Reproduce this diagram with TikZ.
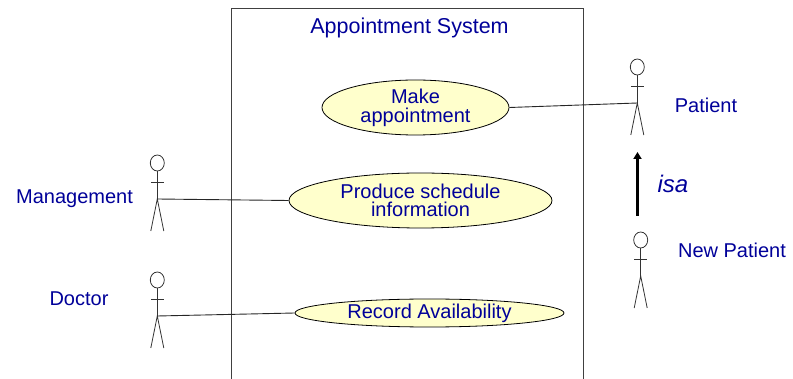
\documentclass[tikz,border=0pt]{standalone}
\usepackage{fontspec}
\setmainfont{Liberation Sans}
\usetikzlibrary{shapes.geometric,arrows.meta}
\definecolor{txt}{HTML}{000099}
\definecolor{usefill}{HTML}{FFFFCC}
\tikzset{
  usecase/.style={ellipse,draw=black,line width=0.8pt,fill=usefill,inner sep=0pt,text=txt,align=center},
  lab/.style={text=txt,inner sep=0pt,font=\fontsize{20}{20}\selectfont},
  conn/.style={draw=black!85,line width=0.9pt},
  stick/.style={draw=black!80,line width=0.8pt},
  pics/actor/.style={code={
    \coordinate (-hip) at (0,0);
    \draw[stick] (0,-36) ellipse [x radius=7,y radius=8];
    \draw[stick] (0,-28) -- (0,0);
    \draw[stick] (-6.5,-17) -- (6.5,-17);
    \draw[stick] (-6.5,32) -- (0,0) -- (6.5,32);
  }}
}
\begin{document}
\begin{tikzpicture}[x=1pt,y=-1pt]
\useasboundingbox (0,0) rectangle (793,379);
\draw[draw=black!75,line width=0.9pt] (231.5,379) -- (231.5,8.5) -- (583,8.5) -- (583,379);
\node[lab,font=\fontsize{21.5}{22}\selectfont] (title) at (409.5,28) {Appointment System};
\node[usecase,minimum width=187pt,minimum height=55pt,font=\fontsize{20}{19}\selectfont] (make) at (415.5,107.5) {Make\\appointment};
\node[usecase,minimum width=263pt,minimum height=55pt,font=\fontsize{20}{18}\selectfont] (produce) at (420.5,200.5) {Produce schedule\\information};
\node[usecase,minimum width=269pt,minimum height=28pt,font=\fontsize{20}{20}\selectfont] (record) at (429.5,313) {Record Availability};
\pic (mgmt) at (157.3,199) {actor};
\pic (doc) at (157.3,316) {actor};
\pic (pat) at (637.3,103) {actor};
\pic (newp) at (640.7,276) {actor};
\node[lab] (lmgmt) at (74.5,199) {Management};
\node[lab] (ldoc) at (79,299) {Doctor};
\node[lab] (lpat) at (706,105) {Patient};
\node[lab] (lnew) at (732,250) {New Patient};
\node[lab,font=\fontsize{24}{24}\selectfont\itshape] (isa) at (673,184) {isa};
\coordinate (isafrom) at (637.5,216);
\coordinate (isato) at (637.5,152);
\draw[line width=2.8pt,-{Triangle[length=7pt,width=8pt]}] (isafrom) -- (isato);
\draw[conn] (mgmt-hip) -- (produce.west);
\draw[conn] (doc-hip) -- (record.west);
\draw[conn] (pat-hip) -- (make.east);
\end{tikzpicture}
\end{document}
